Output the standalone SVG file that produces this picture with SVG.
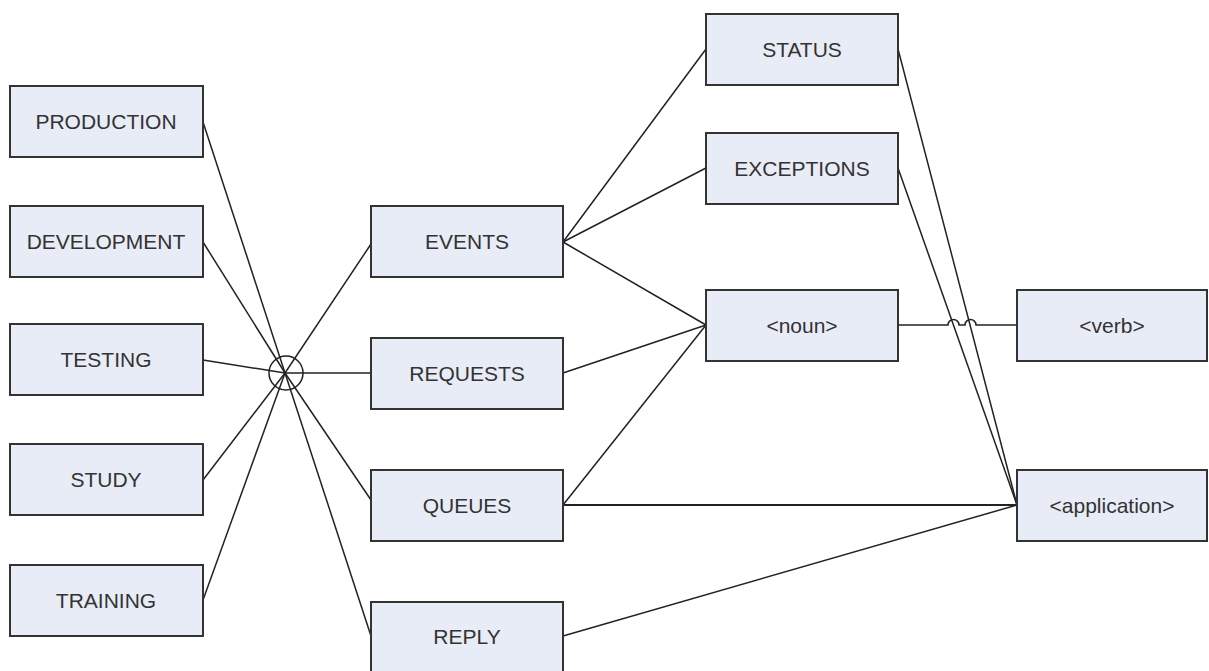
<svg xmlns="http://www.w3.org/2000/svg" width="1209" height="671" viewBox="0 0 1209 671">
<style>
.n rect{fill:#e8ecf6;stroke:#333;stroke-width:2}
.n text{font-family:"Liberation Sans",Arial,sans-serif;font-size:21px;fill:#333;text-anchor:middle}
.c{stroke:#222;stroke-width:1.5;fill:none}
</style>
<rect width="1209" height="671" fill="#fff"/>
<g id="connectors" class="c">
<line x1="203" y1="122" x2="285" y2="373"/>
<line x1="203" y1="242" x2="285" y2="373"/>
<line x1="203" y1="360" x2="285" y2="373"/>
<line x1="203" y1="480" x2="285" y2="373"/>
<line x1="203" y1="600" x2="285" y2="373"/>
<line x1="285" y1="373" x2="371" y2="244"/>
<line x1="285" y1="373" x2="371" y2="373"/>
<line x1="285" y1="373" x2="371" y2="500"/>
<line x1="285" y1="373" x2="371" y2="636"/>
<line x1="563" y1="242" x2="706" y2="49"/>
<line x1="563" y1="242" x2="706" y2="168"/>
<line x1="563" y1="242" x2="706" y2="325"/>
<line x1="563" y1="373" x2="706" y2="325"/>
<line x1="563" y1="505" x2="706" y2="325"/>
<line x1="563" y1="505" x2="1017" y2="505" style="stroke-width:2"/>
<line x1="563" y1="636" x2="1017" y2="505"/>
<line x1="898" y1="49" x2="1017" y2="505"/>
<line x1="898" y1="168" x2="1017" y2="505"/>
<path d="M898 325 H948 A5.5 5.5 0 0 1 959 325 H965 A5.5 5.5 0 0 1 976 325 H1017"/>
</g>
<g id="junction"><circle cx="286" cy="373" r="17" fill="none" stroke="#222" stroke-width="1.5"/></g>
<g id="production" class="n"><rect x="10" y="86" width="193" height="71"/><text x="106" y="129">PRODUCTION</text></g>
<g id="development" class="n"><rect x="10" y="206" width="193" height="71"/><text x="106" y="249">DEVELOPMENT</text></g>
<g id="testing" class="n"><rect x="10" y="324" width="193" height="71"/><text x="106" y="367">TESTING</text></g>
<g id="study" class="n"><rect x="10" y="444" width="193" height="71"/><text x="106" y="487">STUDY</text></g>
<g id="training" class="n"><rect x="10" y="565" width="193" height="71"/><text x="106" y="608">TRAINING</text></g>
<g id="events" class="n"><rect x="371" y="206" width="192" height="71"/><text x="467" y="249">EVENTS</text></g>
<g id="requests" class="n"><rect x="371" y="338" width="192" height="71"/><text x="467" y="381">REQUESTS</text></g>
<g id="queues" class="n"><rect x="371" y="470" width="192" height="71"/><text x="467" y="513">QUEUES</text></g>
<g id="reply" class="n"><rect x="371" y="602" width="192" height="80"/><text x="467" y="644">REPLY</text></g>
<g id="status" class="n"><rect x="706" y="14" width="192" height="71"/><text x="802" y="57">STATUS</text></g>
<g id="exceptions" class="n"><rect x="706" y="133" width="192" height="71"/><text x="802" y="176">EXCEPTIONS</text></g>
<g id="noun" class="n"><rect x="706" y="290" width="192" height="71"/><text x="802" y="333">&lt;noun&gt;</text></g>
<g id="verb" class="n"><rect x="1017" y="290" width="190" height="71"/><text x="1112" y="333">&lt;verb&gt;</text></g>
<g id="application" class="n"><rect x="1017" y="470" width="190" height="71"/><text x="1112" y="513">&lt;application&gt;</text></g>
</svg>
